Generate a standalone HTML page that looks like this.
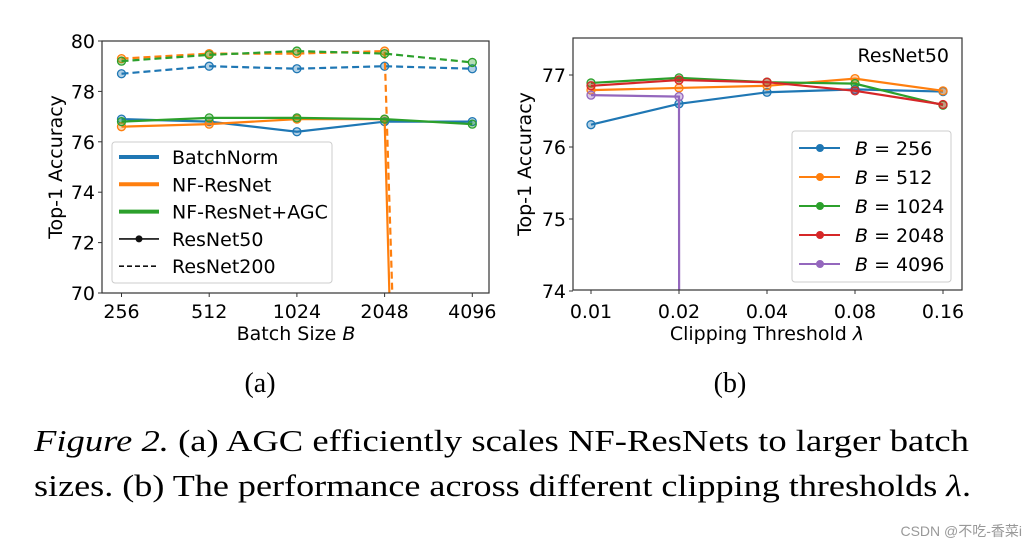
<!DOCTYPE html>
<html><head><meta charset="utf-8"><style>
html,body{margin:0;background:#fff;width:1036px;height:551px;overflow:hidden}
svg{display:block}
svg text{font-family:"DejaVu Sans","Liberation Sans",sans-serif}
</style></head><body>
<svg id="fig" width="1036" height="551">
<defs>
<clipPath id="ca"><rect x="102" y="41" width="387" height="252"/></clipPath>
<clipPath id="cb"><rect x="573" y="38" width="389" height="252"/></clipPath>
</defs>
<g id="ga"></g>
<g id="gb"></g>
<text x="260" y="392" font-size="28" text-anchor="middle" style="font-family:'Liberation Serif',serif">(a)</text>
<text x="730" y="392" font-size="28" text-anchor="middle" style="font-family:'Liberation Serif',serif">(b)</text>
<text x="34" y="451" font-size="31" textLength="935" lengthAdjust="spacingAndGlyphs" style="font-family:'Liberation Serif',serif"><tspan font-style="italic">Figure 2.</tspan> (a) AGC efficiently scales NF-ResNets to larger batch</text>
<text x="34" y="496" font-size="31" textLength="937" lengthAdjust="spacingAndGlyphs" style="font-family:'Liberation Serif',serif">sizes. (b) The performance across different clipping thresholds <tspan font-style="italic">λ</tspan>.</text>
<text x="1022" y="536" font-size="14" fill="#999" text-anchor="end" style="font-family:'Liberation Sans','Noto Sans CJK SC',sans-serif">CSDN @不吃-香菜i</text>
</svg>
<script>
const batchCats=["256","512","1024","2048","4096"];
const bnR50=[76.9,76.8,76.4,76.8,76.8];
const bnR200=[78.7,79.0,78.9,79.0,78.9];
const nfR50=[76.6,76.7,76.9,76.9,-50];
const nfR200=[79.3,79.5,79.5,79.6,-30];
const agcR50=[76.8,76.95,76.95,76.9,76.7];
const agcR200=[79.2,79.45,79.6,79.5,79.15];
const aTicks=[70,72,74,76,78,80];
const clipCats=["0.01","0.02","0.04","0.08","0.16"];
const b256=[76.31,76.6,76.76,76.8,76.77];
const b512=[76.79,76.82,76.85,76.95,76.78];
const b1024=[76.89,76.96,76.9,76.88,76.58];
const b2048=[76.85,76.93,76.9,76.78,76.59];
const b4096=[76.72,76.7,-2000,null,null];
const bTicks=[74,75,76,77];
const C={blue:"#1f77b4",orange:"#ff7f0e",green:"#2ca02c",red:"#d62728",purple:"#9467bd"};
const NS="http://www.w3.org/2000/svg";
function mk(p,t,a){const e=document.createElementNS(NS,t);for(const k in a)e.setAttribute(k,a[k]);p.appendChild(e);return e;}

const ga=document.getElementById('ga');
const ax=i=>121.5+i*87.7, ay=v=>293-(v-70)*25.2;
function seriesA(vals,color,dash,name){
  const g=mk(ga,'g',{'clip-path':'url(#ca)'});
  
  
  const pts=vals.map((v,i)=>ax(i)+','+ay(v)).join(' ');
  mk(g,'polyline',{points:pts,fill:'none',stroke:color,'stroke-width':2.2,'stroke-dasharray':dash?'7,4':'none'});
  vals.forEach((v,i)=>{const c=mk(g,'circle',{cx:ax(i),cy:ay(v),r:4,fill:color,'fill-opacity':0.35,stroke:color,'stroke-width':1.3});
    
    });
}
seriesA(bnR200,C.blue,true,'batchnorm-resnet200');
seriesA(nfR200,C.orange,true,'nf-resnet200');
seriesA(agcR200,C.green,true,'agc-resnet200');
seriesA(bnR50,C.blue,false,'batchnorm-resnet50');
seriesA(nfR50,C.orange,false,'nf-resnet50');
seriesA(agcR50,C.green,false,'agc-resnet50');
mk(ga,'rect',{x:102,y:41,width:387,height:252,fill:'none',stroke:'#333','stroke-width':1.2});
aTicks.forEach(t=>{mk(ga,'line',{x1:98,x2:102,y1:ay(t),y2:ay(t),stroke:'#333'});
  const tx=mk(ga,'text',{x:95,y:ay(t)+7,'font-size':19,'text-anchor':'end'});tx.textContent=t;
  
  });
batchCats.forEach((c,i)=>{mk(ga,'line',{x1:ax(i),x2:ax(i),y1:293,y2:297,stroke:'#333'});
  const tx=mk(ga,'text',{x:ax(i),y:318,'font-size':19,'text-anchor':'middle'});tx.textContent=c;
  
  });
let t=mk(ga,'text',{x:296,y:340,'font-size':19,'text-anchor':'middle'});t.innerHTML='Batch Size <tspan font-style="italic">B</tspan>';


t=mk(ga,'text',{x:62,y:167,'font-size':19,'text-anchor':'middle',transform:'rotate(-90 62 167)'});t.textContent='Top-1 Accuracy';


const la=mk(ga,'g',{});


mk(la,'rect',{x:112,y:142,width:220,height:141,rx:3,fill:'#fff','fill-opacity':0.85,stroke:'#ccc'});
[["BatchNorm",C.blue,0],["NF-ResNet",C.orange,0],["NF-ResNet+AGC",C.green,0],["ResNet50","#111",1],["ResNet200","#111",2]].forEach((e,i)=>{
  const y=157+i*27.3;
  if(e[2]==0)mk(la,'line',{x1:119,x2:159,y1:y,y2:y,stroke:e[1],'stroke-width':4});
  else if(e[2]==1){mk(la,'line',{x1:119,x2:159,y1:y,y2:y,stroke:e[1],'stroke-width':1.6});mk(la,'circle',{cx:139,cy:y,r:3.5,fill:'#111'});}
  else mk(la,'line',{x1:119,x2:159,y1:y,y2:y,stroke:e[1],'stroke-width':1.6,'stroke-dasharray':'5,3'});
  const tx=mk(la,'text',{x:172,y:y+7,'font-size':19});tx.textContent=e[0];
  
  });

const gb=document.getElementById('gb');
const bx=i=>591+i*88, by=v=>291-(v-74)*72;
function seriesB(vals,color,name){
  const g=mk(gb,'g',{'clip-path':'url(#cb)'});
  
  
  const pts=vals.map((v,i)=>v==null?null:bx(i)+','+by(v)).filter(p=>p).join(' ');
  mk(g,'polyline',{points:pts,fill:'none',stroke:color,'stroke-width':2.2});
  vals.forEach((v,i)=>{if(v==null)return;const c=mk(g,'circle',{cx:bx(i),cy:by(v),r:4,fill:color,'fill-opacity':0.35,stroke:color,'stroke-width':1.3});
    
    });
}
seriesB(b256,C.blue,'series-b256');
seriesB(b512,C.orange,'series-b512');
seriesB(b1024,C.green,'series-b1024');
seriesB(b2048,C.red,'series-b2048');
seriesB(b4096,C.purple,'series-b4096');
mk(gb,'rect',{x:573,y:38,width:389,height:252,fill:'none',stroke:'#333','stroke-width':1.2});
bTicks.forEach(t=>{mk(gb,'line',{x1:569,x2:573,y1:by(t),y2:by(t),stroke:'#333'});
  const tx=mk(gb,'text',{x:566,y:by(t)+7,'font-size':19,'text-anchor':'end'});tx.textContent=t;
  
  });
clipCats.forEach((c,i)=>{mk(gb,'line',{x1:bx(i),x2:bx(i),y1:290,y2:294,stroke:'#333'});
  const tx=mk(gb,'text',{x:bx(i),y:318,'font-size':19,'text-anchor':'middle'});tx.textContent=c;
  
  });
t=mk(gb,'text',{x:767,y:340,'font-size':19,'text-anchor':'middle'});t.innerHTML='Clipping Threshold <tspan font-style="italic">λ</tspan>';


t=mk(gb,'text',{x:531,y:164,'font-size':19,'text-anchor':'middle',transform:'rotate(-90 531 164)'});t.textContent='Top-1 Accuracy';


t=mk(gb,'text',{x:949,y:62,'font-size':19,'text-anchor':'end'});t.textContent='ResNet50';


const lb=mk(gb,'g',{});


mk(lb,'rect',{x:792,y:131,width:159,height:151,rx:3,fill:'#fff','fill-opacity':0.85,stroke:'#ccc'});
[["256",C.blue],["512",C.orange],["1024",C.green],["2048",C.red],["4096",C.purple]].forEach((e,i)=>{
  const y=148+i*29;
  mk(lb,'line',{x1:799,x2:840,y1:y,y2:y,stroke:e[1],'stroke-width':2});
  mk(lb,'circle',{cx:820,cy:y,r:3.5,fill:e[1],stroke:e[1]});
  const tx=mk(lb,'text',{x:855,y:y+7,'font-size':19});tx.innerHTML='<tspan font-style="italic">B</tspan> = '+e[0];
  
  });
</script>
</body></html>
